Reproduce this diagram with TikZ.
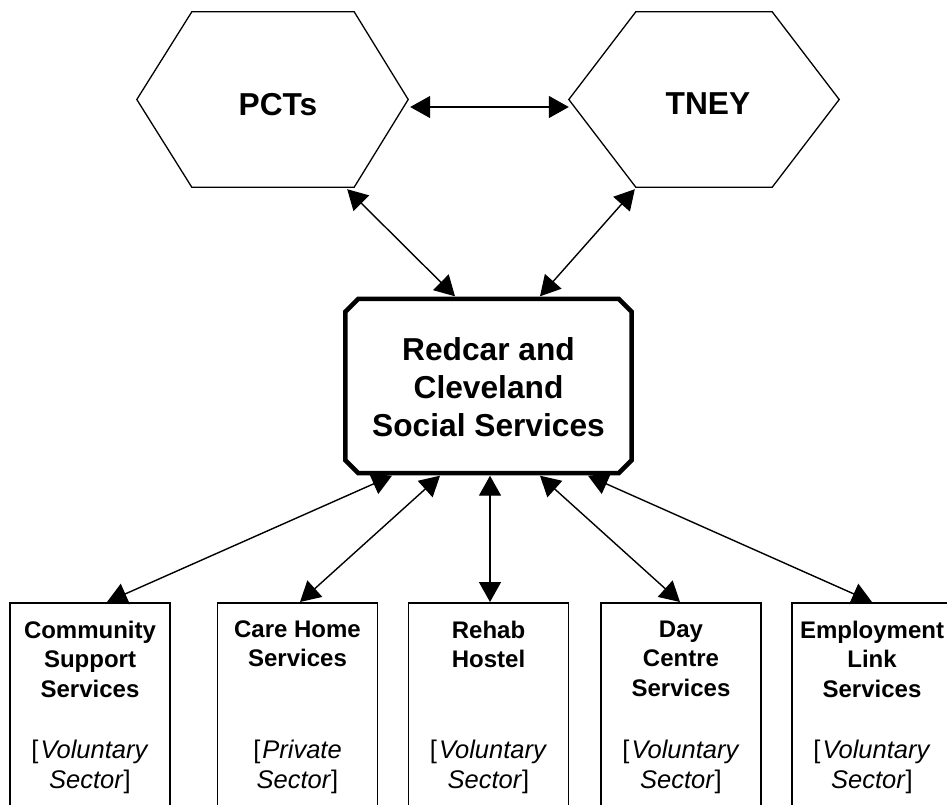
\documentclass[tikz,border=0pt]{standalone}
\usepackage{fontspec}
\setmainfont{Liberation Sans}
\usetikzlibrary{arrows.meta,calc}
\begin{document}
\begin{tikzpicture}[x=1pt,y=-1pt,
  conn/.style={{Triangle[length=20pt,width=22pt]}-{Triangle[length=20pt,width=22pt]}, line width=1.4pt},
  hexarea/.style={minimum width=#1, minimum height=175pt, inner sep=0pt},
  hexline/.style={line width=1.3pt, line join=miter},
  bigfont/.style={font=\fontsize{31.7}{38.3}\selectfont\bfseries},
  centrearea/.style={minimum width=286pt, minimum height=174pt, inner sep=0pt},
  centreline/.style={line width=4.5pt, line join=miter},
  svcbox/.style={draw, line width=1.6pt, minimum width=160pt, minimum height=220pt, inner sep=0pt, anchor=north},
  svctitle/.style={font=\fontsize{24}{29.5}\selectfont\bfseries, align=center, inner sep=0pt, anchor=north},
  svcsector/.style={font=\fontsize{25.5}{30}\selectfont, align=center, inner sep=0pt, anchor=north},
]
\clip (0,0) rectangle (947,804);
\fill[white] (0,0) rectangle (947,804);

% hexagons
\node[hexarea=271pt] (pcts) at (272.5,99.5) {};
\node[hexarea=270pt] (tney) at (704,99.5) {};
\draw[hexline] (pcts.west) -- ($(pcts.north west)+(55,0)$) -- ($(pcts.north east)+(-54,0)$) -- (pcts.east) -- ($(pcts.south east)+(-54,0)$) -- ($(pcts.south west)+(55,0)$) -- cycle;
\draw[hexline] (tney.west) -- ($(tney.north west)+(67,0)$) -- ($(tney.north east)+(-67,0)$) -- (tney.east) -- ($(tney.south east)+(-67,0)$) -- ($(tney.south west)+(67,0)$) -- cycle;
\node[bigfont, anchor=base, inner sep=0pt] (pctslabel) at (278,115) {PCTs};
\node[bigfont, anchor=base, inner sep=0pt] (tneylabel) at (708,114) {TNEY};

% centre box
\node[centrearea] (c) at (488.5,386) {};
\draw[centreline] ($(c.north west)+(13,0)$) -- ($(c.north east)+(-13,0)$) -- ($(c.north east)+(0,13)$) -- ($(c.south east)+(0,-13)$) -- ($(c.south east)+(-13,0)$) -- ($(c.south west)+(13,0)$) -- ($(c.south west)+(0,-13)$) -- ($(c.north west)+(0,13)$) -- cycle;
\node[bigfont, align=center, anchor=north, inner sep=0pt] (clabel) at (488.5,337) {Redcar and\\Cleveland\\Social Services};

% service boxes
\node[svcbox] (b1) at (90,602) {};
\node[svcbox] (b2) at (297.5,602) {};
\node[svcbox] (b3) at (488.5,602) {};
\node[svcbox] (b4) at (681,602) {};
\node[svcbox] (b5) at (872,602) {};

\node[svctitle] (t1) at (90,620.5) {Community\\Support\\Services};
\node[svctitle] (t2) at (297.5,620.5) {Care Home\\Services};
\node[svctitle] (t3) at (488.5,620.5) {Rehab\\Hostel};
\node[svctitle] (t4) at (681,620.5) {Day\\Centre\\Services};
\node[svctitle] (t5) at (872,620.5) {Employment\\Link\\Services};

\node[svcsector] (s1) at (90,739.5) {[\kern2pt\textit{Voluntary}\\\textit{Sector}]};
\node[svcsector] (s2) at (297.5,739.5) {[\kern2pt\textit{Private}\\\textit{Sector}]};
\node[svcsector] (s3) at (488.5,739.5) {[\kern2pt\textit{Voluntary}\\\textit{Sector}]};
\node[svcsector] (s4) at (681,739.5) {[\kern2pt\textit{Voluntary}\\\textit{Sector}]};
\node[svcsector] (s5) at (872,739.5) {[\kern2pt\textit{Voluntary}\\\textit{Sector}]};

% connectors
\draw[conn] ($(pcts.east)+(2,7.5)$) -- ($(tney.west)+(0,7.5)$);
\draw[conn] ($(pcts.south east)+(-61,2)$) -- ($(c.north)+(-33.5,-2.5)$);
\draw[conn] ($(tney.south west)+(66,2)$) -- ($(c.north)+(51.5,-2.5)$);
\draw[conn] ($(c.south)+(-96.5,2.5)$) -- ($(b1.north)+(17,0)$);
\draw[conn] ($(c.south)+(-48.5,2.5)$) -- ($(b2.north)+(2.5,0)$);
\draw[conn] ($(c.south)+(1.5,2.5)$) -- ($(b3.north)+(1.5,0)$);
\draw[conn] ($(c.south)+(51.5,2.5)$) -- ($(b4.north)+(-1,0)$);
\draw[conn] ($(c.south)+(99.5,2.5)$) -- ($(b5.north)+(0,0)$);
\end{tikzpicture}
\end{document}
